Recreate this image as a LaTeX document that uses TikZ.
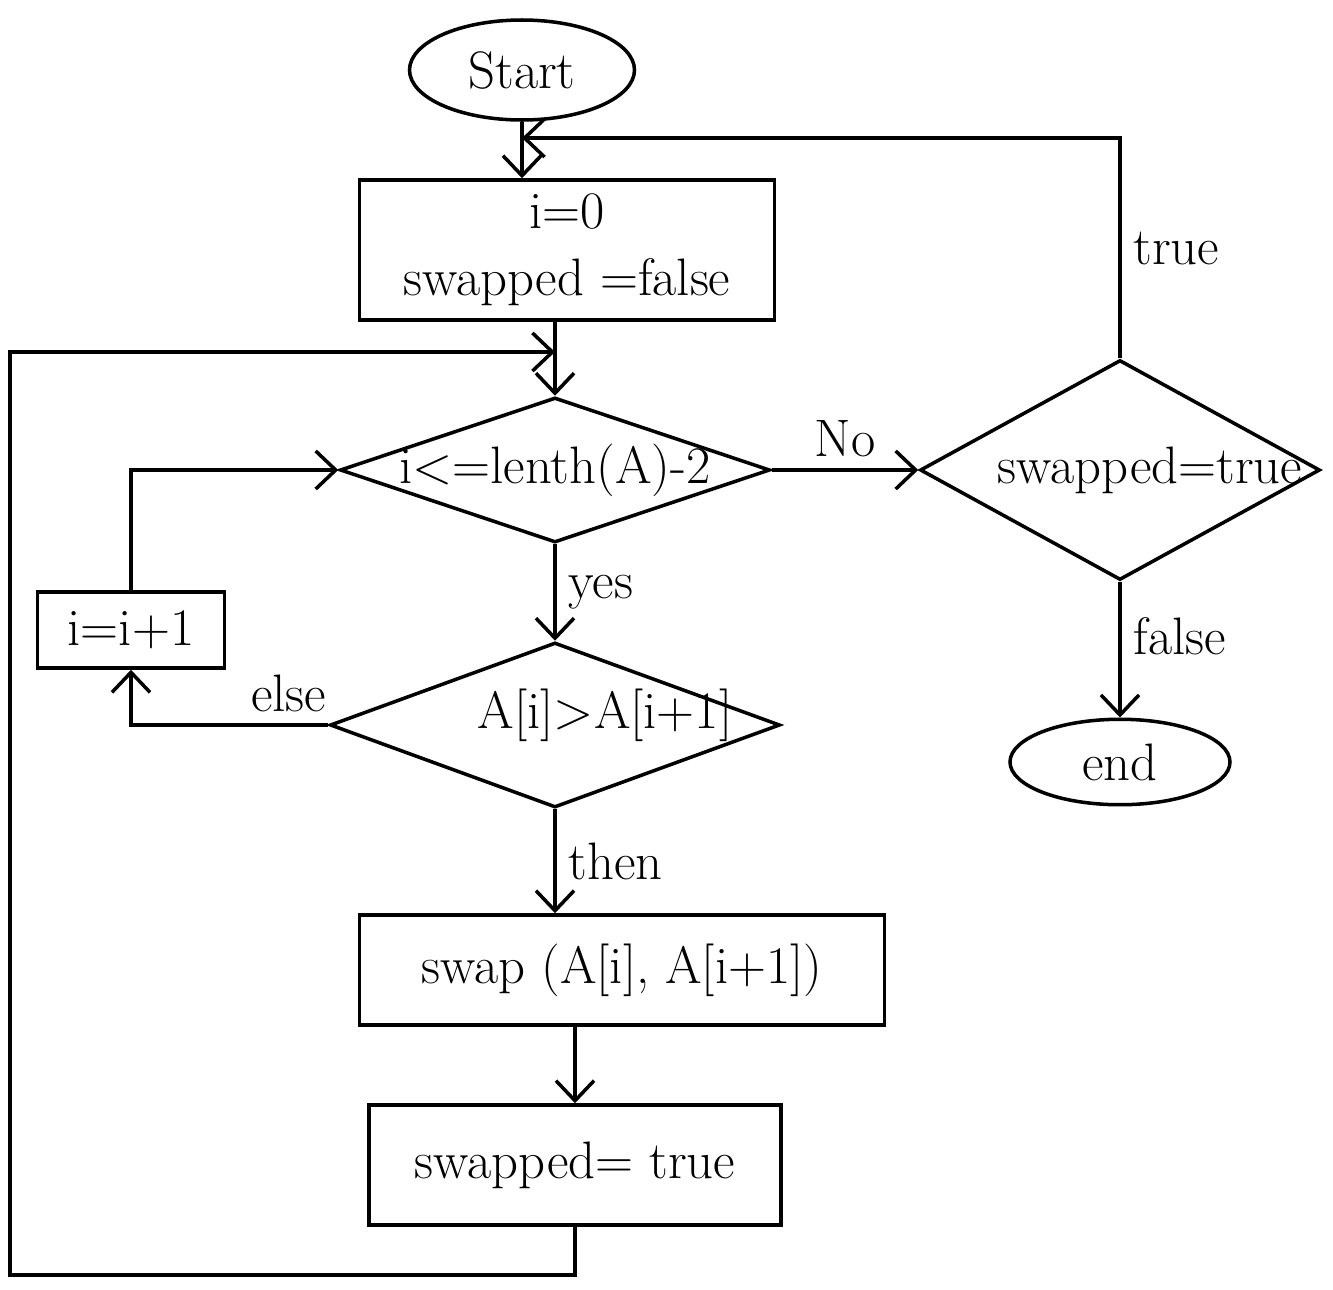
\documentclass[tikz,border=0pt]{standalone}
\usepackage{amsmath}
\usepackage{tikz}
\usetikzlibrary{shapes.geometric,arrows.meta,positioning}

\begin{document}
\begin{tikzpicture}[line width=1pt,>={Straight Barb[length=2mm,width=3.8mm]},font=\fontsize{15}{19}\selectfont,
		term/.style={ellipse, draw, minimum width=2.25cm, minimum height=1cm},
		proc/.style={rectangle, draw, minimum width=4.15cm, minimum height=1.4cm},
		decide/.style={diamond, draw, inner sep=0pt}]
		\useasboundingbox (0,0) rectangle (13.33,-12.9);
		\node[term] (start) at (5.22,-0.70) {Start};
		\node[proc,align=center] (init) at (5.67,-2.50) {i=0\\swapped =false};
		\node[decide,minimum width=4.3cm,minimum height=1.45cm,label={center:{i<=lenth(A)-2}}] (cond) at (5.55,-4.7) {};
		\node[decide,minimum width=4cm,minimum height=2.2cm,label={[xshift=0.3cm]center:{swapped=true}}] (check) at (11.2,-4.7) {};
		\node[term,minimum width=2.2cm,minimum height=0.85cm] (stop) at (11.2,-7.62) {end};
		\node[decide,minimum width=4.5cm,minimum height=1.65cm,label={[xshift=0.5cm,yshift=0.1cm]center:{A[i]>A[i+1]}}] (test) at (5.55,-7.25) {};
		\node[proc,minimum width=1.87cm,minimum height=0.76cm] (inc) at (1.31,-6.30) {i=i+1};
		\node[proc,minimum width=5.25cm,minimum height=1.1cm] (swap) at (6.22,-9.70) {swap (A[i], A[i+1])};
		\node[proc,minimum width=4.12cm,minimum height=1.2cm] (flag) at (5.75,-11.65) {swapped= true};
		\coordinate (back) at (5.22,-1.38);
		\coordinate (merge) at (5.55,-3.52);
		\coordinate (corner) at (0.1,-12.75);
		\path[->]
			(start.south) edge (start.south |- init.north)
			(init.south -| cond.north) edge (cond.north)
			(cond.east) edge node[above] {No} (check.west)
			(check.south) edge node[pos=0.4,right] {false} (check.south |- stop.north)
			(cond.south) edge node[right] {yes} (cond.south |- test.north)
			(test.south) edge node[right] {then} (test.south |- swap.north)
			(swap.south -| flag.north) edge (flag.north);
		\draw[->] (check.north) |- node[pos=0.25,right] {true} (back);
		\draw[->] (test.west) -| node[pos=0.1,above] {else} (inc.south);
		\draw[->] (inc.north) |- (cond.west);
		\draw[->] (flag.south) |- (corner) |- (merge);
	\end{tikzpicture}
\end{document}
